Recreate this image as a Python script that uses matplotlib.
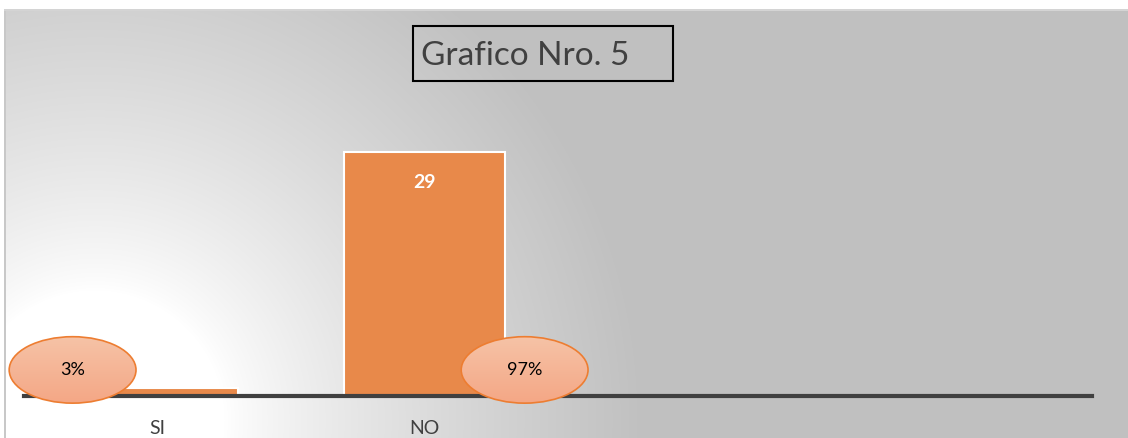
import numpy as np
import matplotlib.pyplot as plt
from matplotlib.patches import Ellipse, Rectangle

plt.rcParams['font.family'] = ['Lato', 'DejaVu Sans']

# data
categories = ['SI', 'NO', '', '']
values = [1, 29, 0, 0]
percent_labels = ['3%', '97%']
title = 'Grafico Nro. 5'

W, H = 1128, 438
fig = plt.figure(figsize=(W / 100, H / 100), dpi=100)
fig.patch.set_facecolor('white')

# background panel with radial gradient (white bottom-left, gray elsewhere)
bg = fig.add_axes([5 / W, 0, 1 - 5 / W, (H - 10) / H])
bg.set_axis_off()
yy, xx = np.mgrid[0:H - 10, 0:W - 5]
cx, cy = 90, 420 - 10
r = np.hypot(xx - cx, yy - cy)
t = np.clip((r - 130) / 420, 0, 1) ** 0.8
col = 1.0 - t * (1.0 - 0.753)
img = np.dstack([col, col, col])
bg.imshow(img, aspect='auto', extent=[0, 1, 0, 1], origin='upper')
bg.set_xlim(0, 1)
bg.set_ylim(0, 1)
fig.add_artist(Rectangle((4 / W, 0), 1.5 / W, (H - 10) / H, transform=fig.transFigure,
                         color='#c8c8c8', lw=0))
fig.add_artist(Rectangle((4 / W, (H - 11) / H), 1, 1.5 / H, transform=fig.transFigure,
                         color='#d4d4d4', lw=0))

# main axes
y0px, ytop = 396, 101.6
ax = fig.add_axes([24 / W, (H - y0px) / H, (1092 - 24) / W, (y0px - ytop) / H])
ax.patch.set_alpha(0)
x = np.arange(len(categories))
bars = ax.bar(x, values, width=0.6, color='#e8894a', edgecolor='white', linewidth=1.5,
              zorder=2)
ax.set_xlim(-0.5, len(categories) - 0.5)
ax.set_ylim(0, 35)
for s in ['top', 'right', 'left']:
    ax.spines[s].set_visible(False)
ax.spines['bottom'].set_color('#404040')
ax.spines['bottom'].set_linewidth(3)
ax.spines['bottom'].set_zorder(3)
ax.set_yticks([])
ax.set_xticks(x[:2])
ax.set_xticklabels(categories[:2], fontsize=14, color='#404040')
ax.tick_params(axis='x', length=0, pad=17)

# value label inside NO bar
ax.text(x[1], values[1] - 3.6, str(values[1]), ha='center', va='center',
        color='white', fontsize=14, fontweight='bold', zorder=4)

# percentage ellipses
offsets = [-0.318, 0.375]
grad = np.linspace(0, 1, 100).reshape(-1, 1)
top_c = np.array([0.965, 0.765, 0.655])
bot_c = np.array([0.957, 0.655, 0.525])
gimg = top_c + (bot_c - top_c) * grad[..., None]
for i, lab in enumerate(percent_labels):
    ex = x[i] + offsets[i]
    ey = 3.1
    ew, eh = 0.475, 7.9
    e = Ellipse((ex, ey), ew, eh, facecolor='none', edgecolor='#ed7d31', lw=1.2,
                zorder=6, clip_on=False)
    ax.add_patch(e)
    im = ax.imshow(gimg, extent=[ex - ew / 2, ex + ew / 2, ey - eh / 2, ey + eh / 2],
                   aspect='auto', origin='upper', zorder=5)
    im.set_clip_box(fig.bbox)
    im.set_clip_path(e)
    ax.text(ex, ey, lab, ha='center', va='center', fontsize=13, color='black', zorder=7)
ax.set_xlim(-0.5, len(categories) - 0.5)
ax.set_ylim(0, 35)

# title box
fig.add_artist(Rectangle((413 / W, (H - 81) / H), 260 / W, 55 / H, transform=fig.transFigure,
                         facecolor='none', edgecolor='black', lw=1.5))
fig.text(421 / W, (H - 56) / H, title, ha='left', va='center', fontsize=24, color='#404040')

fig.savefig('out.png', dpi=100)
